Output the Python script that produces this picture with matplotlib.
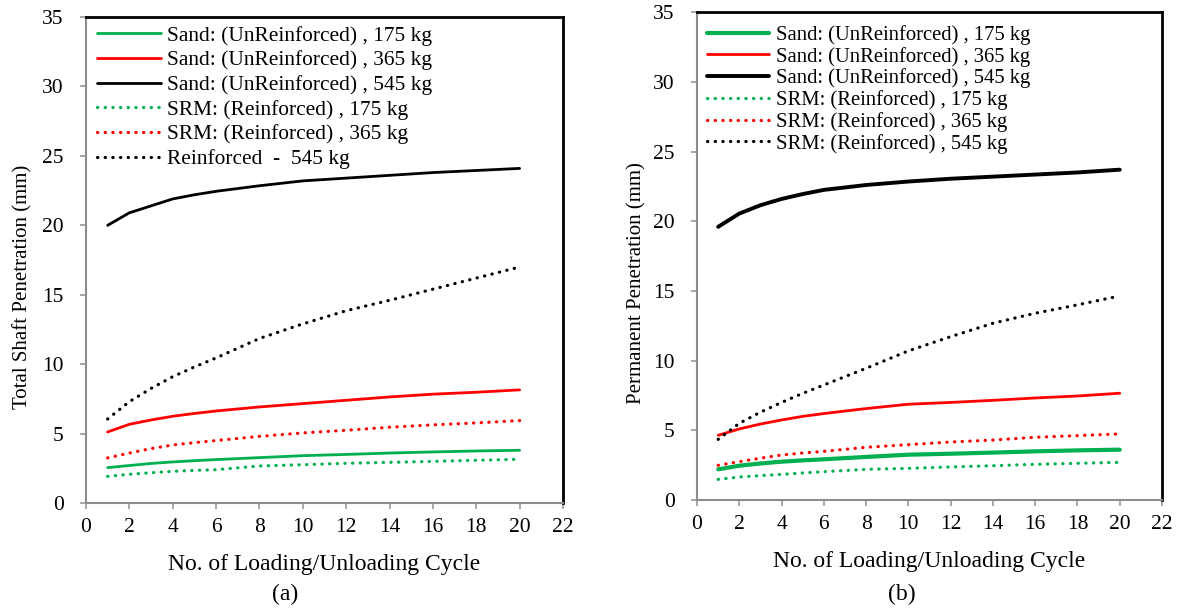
import numpy as np
import matplotlib
matplotlib.use('Agg')
import matplotlib.pyplot as plt

plt.rcParams['font.family'] = ['Liberation Serif', 'DejaVu Serif']

# cycles
cycle = [1, 2, 3, 4, 5, 6, 8, 10, 12, 14, 16, 18, 20]

# (a) total shaft penetration (mm)
a_sand_175 = [2.55, 2.70, 2.85, 2.96, 3.05, 3.13, 3.27, 3.41, 3.50, 3.60, 3.68, 3.75, 3.80]
a_sand_365 = [5.12, 5.67, 5.98, 6.25, 6.45, 6.63, 6.92, 7.16, 7.40, 7.64, 7.84, 7.98, 8.15]
a_sand_545 = [20.0, 20.9, 21.4, 21.9, 22.2, 22.45, 22.85, 23.2, 23.4, 23.6, 23.8, 23.95, 24.1]
a_srm_175 = [1.92, 2.07, 2.18, 2.28, 2.35, 2.40, 2.67, 2.76, 2.86, 2.93, 3.00, 3.08, 3.15]
a_srm_365 = [3.25, 3.60, 3.92, 4.18, 4.35, 4.50, 4.80, 5.05, 5.24, 5.46, 5.63, 5.77, 5.94]
a_srm_545 = [6.05, 7.3, 8.25, 9.1, 9.8, 10.45, 11.85, 12.9, 13.85, 14.6, 15.4, 16.2, 17.0]

# (b) permanent penetration (mm)
b_sand_175 = [2.20, 2.46, 2.62, 2.75, 2.84, 2.92, 3.09, 3.25, 3.32, 3.40, 3.49, 3.56, 3.61]
b_sand_365 = [4.64, 5.10, 5.45, 5.74, 6.00, 6.20, 6.56, 6.87, 7.00, 7.15, 7.32, 7.46, 7.66]
b_sand_545 = [19.6, 20.55, 21.15, 21.6, 21.95, 22.25, 22.6, 22.85, 23.05, 23.2, 23.35, 23.5, 23.7]
b_srm_175 = [1.48, 1.65, 1.75, 1.84, 1.94, 2.03, 2.20, 2.27, 2.37, 2.46, 2.56, 2.63, 2.70]
b_srm_365 = [2.49, 2.75, 3.00, 3.23, 3.37, 3.49, 3.78, 3.97, 4.16, 4.30, 4.50, 4.62, 4.74]
b_srm_545 = [4.35, 5.5, 6.3, 7.0, 7.65, 8.25, 9.45, 10.7, 11.72, 12.68, 13.4, 14.0, 14.64]

labels_a = ['Sand: (UnReinforced) , 175 kg', 'Sand: (UnReinforced) , 365 kg',
            'Sand: (UnReinforced) , 545 kg', 'SRM: (Reinforced) , 175 kg',
            'SRM: (Reinforced) , 365 kg', 'Reinforced  -  545 kg']
labels_b = ['Sand: (UnReinforced) , 175 kg', 'Sand: (UnReinforced) , 365 kg',
            'Sand: (UnReinforced) , 545 kg', 'SRM: (Reinforced) , 175 kg',
            'SRM: (Reinforced) , 365 kg', 'SRM: (Reinforced) , 545 kg']

green = '#00B050'
red = '#FF0000'
black = '#000000'
dot = (0, (0.1, 2.3))

fig = plt.figure(figsize=(11.79, 6.09), dpi=100)
ax1 = fig.add_axes([0.0729, 0.174, 0.4046, 0.798])
ax2 = fig.add_axes([0.5912, 0.179, 0.3944, 0.801])


def draw(ax, data, labels, widths, fs_leg, lspace, anchor_y):
    cols = [green, red, black, green, red, black]
    for i, (y, lab) in enumerate(zip(data, labels)):
        if i < 3:
            ax.plot(cycle, y, color=cols[i], lw=widths[i], label=lab,
                    solid_capstyle='round', solid_joinstyle='round')
        else:
            ax.plot(cycle, y, color=cols[i], lw=2.3, linestyle=dot,
                    dash_capstyle='round', label=lab)
    ax.set_xlim(0, 22)
    ax.set_ylim(0, 35)
    ax.set_xticks(np.arange(0, 23, 2))
    ax.set_yticks(np.arange(0, 36, 5))
    ax.tick_params(labelsize=15.5, length=4, width=1.2, color='#999999',
                   direction='out')
    ax.tick_params(axis='x', pad=7)
    ax.tick_params(axis='y', pad=12)
    for s in ['left', 'bottom']:
        ax.spines[s].set_color('#8c8c8c')
        ax.spines[s].set_linewidth(1.5)
    for s in ['top', 'right']:
        ax.spines[s].set_color('black')
        ax.spines[s].set_linewidth(2.0)
    ax.set_xlabel('No. of Loading/Unloading Cycle', fontsize=17, labelpad=12)
    ax.legend(loc='upper left', frameon=False, fontsize=fs_leg,
              handlelength=3.0, handletextpad=0.3, labelspacing=lspace,
              borderaxespad=0.2, borderpad=0.3, bbox_to_anchor=(0.0, anchor_y))


draw(ax1, [a_sand_175, a_sand_365, a_sand_545, a_srm_175, a_srm_365, a_srm_545],
     labels_a, [2.0, 2.0, 2.0], 15.4, 0.22, 1.004)
draw(ax2, [b_sand_175, b_sand_365, b_sand_545, b_srm_175, b_srm_365, b_srm_545],
     labels_b, [3.0, 2.0, 2.8], 14.9, 0.09, 0.995)

ax1.set_ylabel('Total Shaft Penetration (mm)', fontsize=15)
ax2.set_ylabel('Permanent Penetration (mm)', fontsize=15)
ax1.yaxis.set_label_coords(-0.112, 0.445)
ax2.yaxis.set_label_coords(-0.108, 0.445)

fig.text(285 / 1179, 1 - 594 / 609, '(a)', fontsize=17, ha='center', va='center')
fig.text(902 / 1179, 1 - 594 / 609, '(b)', fontsize=17, ha='center', va='center')

fig.savefig('out.png', dpi=100)
